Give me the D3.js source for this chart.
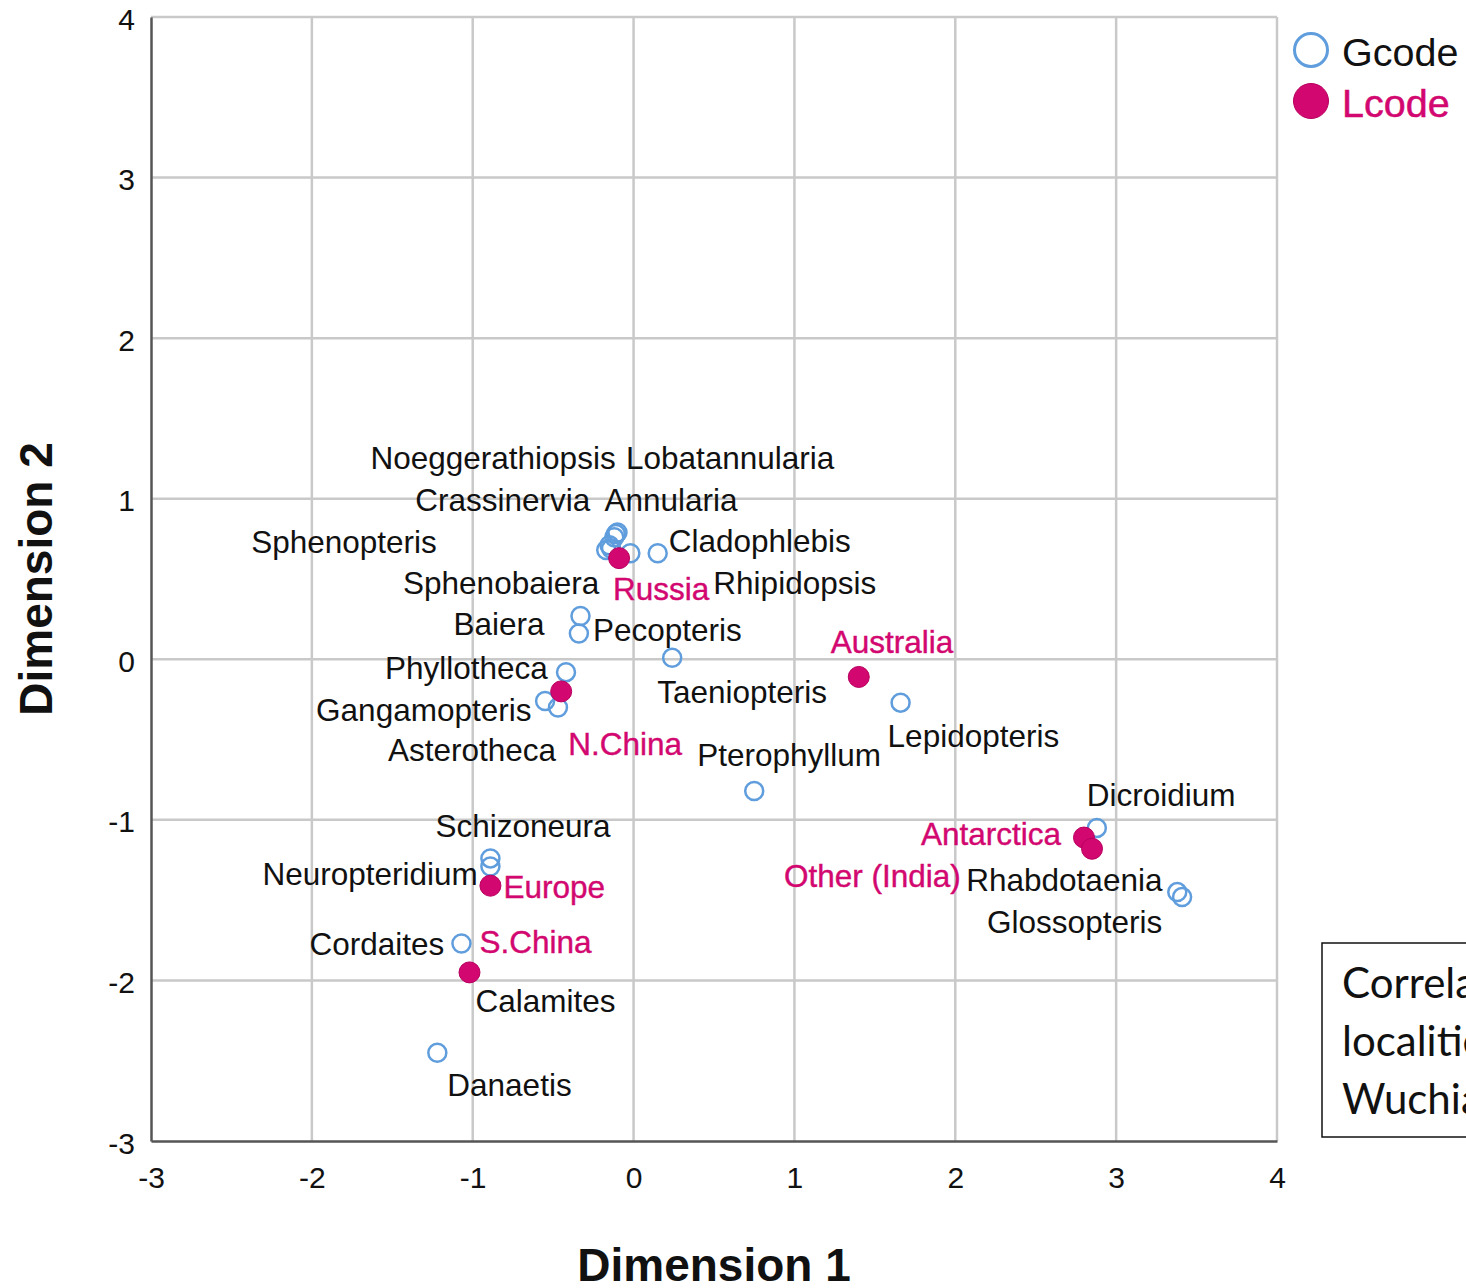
<!DOCTYPE html>
<html>
<head>
<meta charset="utf-8">
<script src="https://cdn.jsdelivr.net/npm/d3@7.9.0/dist/d3.min.js"></script>
<style>
  body { margin: 0; background: #fff; }
  svg { display: block; }
  text { font-family: "Liberation Sans", Arial, sans-serif; }
</style>
</head>
<body>
<svg id="chart" width="1466" height="1288"></svg>
<script>
// genera (Gcode) - dimension 1 / dimension 2
const generaNames = [
  "Noeggerathiopsis", "Lobatannularia", "Crassinervia", "Annularia", "Sphenopteris",
  "Sphenobaiera", "Rhipidopsis", "Cladophlebis", "Baiera", "Pecopteris", "Taeniopteris",
  "Phyllotheca", "Gangamopteris", "Asterotheca", "Lepidopteris", "Pterophyllum",
  "Dicroidium", "Schizoneura", "Neuropteridium", "Rhabdotaenia", "Glossopteris",
  "Cordaites", "Calamites", "Danaetis"
];
const generaDim1 = [-0.10, -0.11, -0.12, -0.15, -0.17, -0.14, -0.02, 0.15, -0.33, -0.34, 0.24,
  -0.42, -0.55, -0.47, 1.66, 0.75, 2.88, -0.89, -0.89, 3.38, 3.41, -1.07, -1.02, -1.22];
const generaDim2 = [0.79, 0.78, 0.76, 0.71, 0.68, 0.69, 0.66, 0.66, 0.27, 0.16, 0.01,
  -0.08, -0.26, -0.30, -0.27, -0.82, -1.05, -1.24, -1.29, -1.45, -1.48, -1.77, -1.95, -2.45];

// localities (Lcode)
const localityNames = ["Russia", "N.China", "Australia", "Antarctica", "Other (India)", "Europe", "S.China"];
const localityDim1 = [-0.09, -0.45, 1.40, 2.80, 2.85, -0.89, -1.02];
const localityDim2 = [0.63, -0.20, -0.11, -1.11, -1.18, -1.41, -1.95];

const ticks = [-3, -2, -1, 0, 1, 2, 3, 4];

// label offsets in px from the point (start of text, vertical middle)
const generaLabelOffset = [
  [-247, -74], [10, -76], [-199, -37], [-5, -45], [-355, -8], [-208, 34], [83, 30], [11, -12],
  [-127, 8], [14, -4], [-15, 34], [-181, -4], [-229, 9], [-170, 43], [-13, 33], [-57, -36],
  [-10, -33], [-55, -32], [-228, 8], [-211, -12], [-195, 25], [-152, 0], [6, 29], [10, 32]
];
const localityLabelOffset = [[-6, 31], [7, 53], [-28, -35], [-163, -4], [-308, 27], [13, 1], [10, -30]];

const blue = "#5f9ddd";
const pink = "#d2076f";

const svg = d3.select("#chart");
const pLeft = 151, pRight = 1277, pTop = 17, pBottom = 1141;

const x = d3.scaleLinear().domain([-3, 4]).range([pLeft, pRight]);
const y = d3.scaleLinear().domain([-3, 4]).range([pBottom, pTop]);

// grid
const grid = svg.append("g");
ticks.forEach(t => {
  if (t !== -3) {
    grid.append("line").attr("x1", x(t)).attr("x2", x(t)).attr("y1", pTop).attr("y2", pBottom)
      .attr("stroke", "#c9c9c9").attr("stroke-width", 2.5);
    grid.append("line").attr("x1", pLeft).attr("x2", pRight).attr("y1", y(t)).attr("y2", y(t))
      .attr("stroke", "#c9c9c9").attr("stroke-width", 2.5);
  }
});

// axes (plain hyphen for negatives, like the original)
const fmt = d => String(d);
const xAxis = svg.append("g").attr("transform", `translate(0,${pBottom})`)
  .call(d3.axisBottom(x).tickValues(ticks).tickSize(0).tickPadding(26).tickFormat(fmt));
const yAxis = svg.append("g").attr("transform", `translate(${pLeft},0)`)
  .call(d3.axisLeft(y).tickValues(ticks).tickSize(0).tickPadding(16).tickFormat(fmt));
[xAxis, yAxis].forEach(a => {
  a.select(".domain").attr("stroke", "#555").attr("stroke-width", 2.5);
  a.selectAll("text").attr("font-size", 30).attr("fill", "#111")
    .style("font-family", "Liberation Sans, Arial, sans-serif");
});
xAxis.selectAll("text").attr("dy", "0.71em");
yAxis.selectAll("text").attr("dx", "0em").attr("dy", "0.4em");

// axis titles
svg.append("text").attr("x", (pLeft + pRight) / 2).attr("y", 1281)
  .attr("text-anchor", "middle").attr("font-size", 46).attr("font-weight", "bold")
  .attr("fill", "#111").text("Dimension 1");
svg.append("text").attr("transform", `translate(52,${(pTop + pBottom) / 2}) rotate(-90)`)
  .attr("text-anchor", "middle").attr("font-size", 46).attr("font-weight", "bold")
  .attr("fill", "#111").text("Dimension 2");

// points
const genera = generaNames.map((n, i) => ({ name: n, d1: generaDim1[i], d2: generaDim2[i], off: generaLabelOffset[i] }));
const localities = localityNames.map((n, i) => ({ name: n, d1: localityDim1[i], d2: localityDim2[i], off: localityLabelOffset[i] }));

svg.append("g").selectAll("circle").data(genera).join("circle")
  .attr("cx", d => x(d.d1)).attr("cy", d => y(d.d2)).attr("r", 9)
  .attr("fill", "none").attr("stroke", blue).attr("stroke-width", 2.5);

svg.append("g").selectAll("circle").data(localities).join("circle")
  .attr("cx", d => x(d.d1)).attr("cy", d => y(d.d2)).attr("r", 10.5)
  .attr("fill", pink).attr("stroke", "#b8005f").attr("stroke-width", 1);

svg.append("g").selectAll("text").data(genera).join("text")
  .attr("x", d => x(d.d1) + d.off[0]).attr("y", d => y(d.d2) + d.off[1])
  .attr("dy", "0.35em").attr("font-size", 31.5).attr("fill", "#111").text(d => d.name);

svg.append("g").selectAll("text").data(localities).join("text")
  .attr("x", d => x(d.d1) + d.off[0]).attr("y", d => y(d.d2) + d.off[1])
  .attr("dy", "0.35em").attr("font-size", 31.5).attr("fill", pink)
  .attr("stroke", pink).attr("stroke-width", 0.4).text(d => d.name);

// legend
const legend = svg.append("g");
legend.append("circle").attr("cx", 1311).attr("cy", 50).attr("r", 16.5)
  .attr("fill", "none").attr("stroke", blue).attr("stroke-width", 3);
legend.append("text").attr("x", 1342).attr("y", 52).attr("dy", "0.35em")
  .attr("font-size", 39.5).attr("fill", "#111").text("Gcode");
legend.append("circle").attr("cx", 1311).attr("cy", 101).attr("r", 17.5)
  .attr("fill", pink).attr("stroke", "#b8005f").attr("stroke-width", 1);
legend.append("text").attr("x", 1342).attr("y", 103).attr("dy", "0.35em")
  .attr("font-size", 39.5).attr("fill", pink).attr("stroke", pink).attr("stroke-width", 0.5)
  .text("Lcode");

// note box (cut off at the right edge, as in the original)
const note = svg.append("g");
note.append("rect").attr("x", 1322).attr("y", 943).attr("width", 400).attr("height", 194)
  .attr("fill", "#fff").attr("stroke", "#111").attr("stroke-width", 1.5);
["Correlation of genera and", "localities in the", "Wuchiapingian"].forEach((line, i) => {
  note.append("text").attr("x", 1342).attr("y", 983 + i * 58).attr("dy", "0.35em")
    .attr("font-size", 42).attr("fill", "#111").style("font-family", "Lato, 'Open Sans', sans-serif")
    .text(line);
});
</script>
</body>
</html>
